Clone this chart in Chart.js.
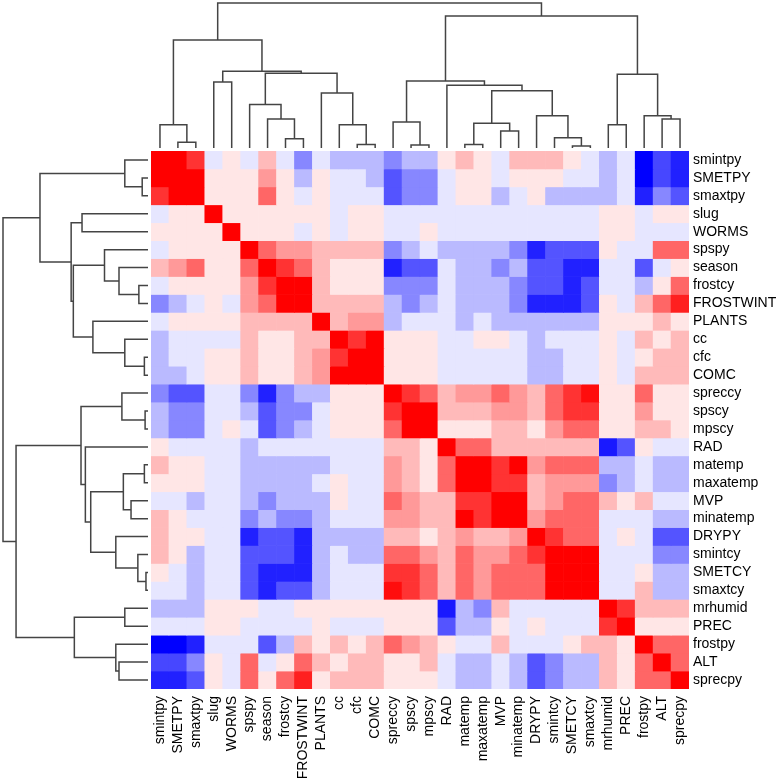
<!DOCTYPE html>
<html>
<head>
<meta charset="utf-8">
<script src="https://cdn.jsdelivr.net/npm/chart.js@4.4.0/dist/chart.umd.min.js"></script>
<style>
  html, body { margin: 0; padding: 0; background: #fff; }
  #wrap { position: relative; width: 779px; height: 784px; overflow: hidden; background: #fff; }
  canvas { position: absolute; }
  #dendTop { left: 151px; top: 0; }
  #dendLeft { left: 0; top: 151px; }
  #heat { left: 151px; top: 151px; }
</style>
</head>
<body>
<div id="wrap">
  <canvas id="dendTop" width="538" height="151"></canvas>
  <canvas id="dendLeft" width="151" height="538"></canvas>
  <canvas id="heat" width="628" height="633"></canvas>
</div>
<script>
// variable order (same for rows and columns, after clustering)
const varNames = ['smintpy', 'SMETPY', 'smaxtpy', 'slug', 'WORMS', 'spspy', 'season', 'frostcy',
  'FROSTWINT', 'PLANTS', 'cc', 'cfc', 'COMC', 'spreccy', 'spscy', 'mpscy', 'RAD', 'matemp',
  'maxatemp', 'MVP', 'minatemp', 'DRYPY', 'smintcy', 'SMETCY', 'smaxtcy', 'mrhumid', 'PREC',
  'frostpy', 'ALT', 'sprecpy'];

// correlations, upper triangle (row i starts at column i)
const corrUpper = [
  [1, 1, .8, -.1, .1, -.1, .27, -.1, -.47, -.1, -.27, -.27, -.27, -.47, -.27, -.27, .1, .27, .1, -.1, .27, .27, .27, .1, -.1, -.27, -.1, -1, -.72, -.87],
  [1, 1, .1, .1, .1, .4, .1, -.27, .1, -.1, -.1, -.27, -.67, -.47, -.47, -.1, .1, .1, -.1, .1, .1, .1, -.1, -.1, -.27, -.1, -1, -.72, -.87],
  [1, .1, .1, .1, .6, .1, -.1, .1, -.1, -.1, -.1, -.67, -.47, -.47, -.1, .1, .1, -.27, -.1, .1, -.27, -.27, -.27, -.27, -.1, -.87, -.47, -.67],
  [1, .1, .1, .1, .1, .1, .1, -.1, .1, .1, -.1, -.1, -.1, -.1, -.1, -.1, -.1, -.1, -.1, -.1, -.1, -.1, .1, .1, -.1, .1, .1],
  [1, .1, .1, .1, -.1, .1, -.1, .1, .1, -.1, -.1, .1, -.1, -.1, -.1, -.1, -.1, -.1, -.1, -.1, -.1, .1, .1, -.1, -.1, -.1],
  [1, .6, .4, .4, .27, .27, .27, .27, -.47, -.27, -.1, -.27, -.27, -.27, -.27, -.47, -.87, -.67, -.67, -.67, .1, -.1, -.1, .6, .6],
  [1, .8, .6, .27, .1, .1, .1, -.87, -.67, -.67, -.1, -.27, -.27, -.47, -.27, -.67, -.67, -.87, -.87, -.1, -.1, -.67, -.1, .1],
  [1, 1, .27, .1, .1, .1, -.47, -.47, -.47, -.1, -.27, -.27, -.27, -.47, -.67, -.67, -.87, -.67, -.1, -.1, -.27, .1, .6],
  [1, .27, .27, .27, .27, -.27, -.47, -.27, -.1, -.27, -.27, -.27, -.47, -.87, -.87, -.87, -.67, .1, -.1, .27, .6, .88],
  [1, .27, .4, .4, -.27, -.1, -.1, -.1, -.27, -.1, -.27, -.27, -.27, -.27, -.27, -.27, .1, .1, .1, .27, .1],
  [1, .8, 1, .1, .1, .1, -.1, -.1, .1, .1, -.1, -.27, -.1, -.1, -.1, .1, -.1, .27, .1, .27],
  [1, 1, .1, .1, .1, -.1, -.1, -.1, -.1, -.1, -.27, -.27, -.1, -.1, .1, -.1, .1, .27, .27],
  [1, .1, .1, .1, -.1, -.1, -.1, -.1, -.1, -.27, -.27, -.1, -.1, .1, -.1, .27, .27, .27],
  [1, .8, .6, .27, .4, .4, .6, .4, .27, .6, .8, .95, .1, .1, .6, .1, .1],
  [1, 1, .27, .27, .27, .4, .4, .27, .6, .8, .8, .1, .1, .4, .1, .1],
  [1, .1, .1, .1, .27, .27, .1, .4, .6, .6, .1, .1, .27, .27, .1],
  [1, .6, .6, .27, .27, .27, .27, .27, .27, -.9, -.67, .1, -.1, -.1],
  [1, 1, .8, 1, .4, .6, .6, .6, -.27, -.27, -.1, -.27, -.27],
  [1, .8, .8, .27, .4, .4, .4, -.47, -.27, -.1, -.27, -.27],
  [1, 1, .27, .4, .6, .6, .27, .1, .27, -.1, -.1],
  [1, .4, .6, .6, .6, -.1, -.1, -.1, -.27, -.27],
  [1, .8, .6, .6, -.1, .1, -.1, -.67, -.67],
  [1, 1, 1, -.1, -.1, -.1, -.47, -.47],
  [1, 1, -.1, -.1, .1, -.27, -.27],
  [1, -.1, -.1, .27, -.27, -.27],
  [1, .8, .27, .27, .27],
  [1, .1, .1, .1],
  [1, .6, .6],
  [1, .6],
  [1]
];

// hierarchical clustering: [childA, childB, height]; numbers = leaves, 'mK' = merge K
const merges = [
  [1, 2, 0.04], [0, 'm0', 0.16], [3, 4, 0.455], [7, 8, 0.063], [6, 'm3', 0.2],
  [5, 'm4', 0.30], [11, 12, 0.025], [10, 'm6', 0.16], [9, 'm7', 0.38], ['m5', 'm8', 0.515],
  ['m2', 'm9', 0.53], ['m1', 'm10', 0.745], [14, 15, 0.02], [13, 'm12', 0.18], [17, 18, 0.025],
  [19, 20, 0.117], ['m14', 'm15', 0.17], [23, 24, 0.014], [22, 'm17', 0.07], [21, 'm18', 0.222],
  ['m16', 'm19', 0.395], [16, 'm20', 0.432], ['m13', 'm21', 0.462], [25, 26, 0.16], [28, 29, 0.2],
  [27, 'm24', 0.222], ['m23', 'm25', 0.508], ['m22', 'm26', 0.91], ['m11', 'm27', 1.0]
];

const FONT = "'Liberation Sans', Arial, sans-serif";
const LINE = '#444';
const n = varNames.length;

// full symmetric matrix
const corr = [];
for (let i = 0; i < n; i++) corr.push(new Array(n).fill(0));
corrUpper.forEach((row, i) => row.forEach((v, k) => {
  corr[i][i + k] = v;
  corr[i + k][i] = v;
}));

function corrColor(v) {
  const c = Math.round(255 * (1 - Math.abs(v)));
  return v >= 0 ? `rgb(255,${c},${c})` : `rgb(${c},${c},255)`;
}

// dendrogram node positions / heights
function nodeInfo(id, nodes) {
  if (typeof id === 'number') return { pos: id + 0.5, h: 0 };
  return nodes[+id.slice(1)];
}
function dendroSets(vertical) {
  const nodes = [];
  const sets = [];
  merges.forEach(([a, b, h]) => {
    const na = nodeInfo(a, nodes), nb = nodeInfo(b, nodes);
    nodes.push({ pos: (na.pos + nb.pos) / 2, h: h });
    const pts = [[na.pos, na.h], [na.pos, h], [nb.pos, h], [nb.pos, nb.h]];
    sets.push({
      data: pts.map(p => vertical ? { x: p[0], y: p[1] } : { x: p[1], y: p[0] }),
      showLine: true,
      pointRadius: 0,
      borderColor: LINE,
      borderWidth: 1.5,
      clip: false
    });
  });
  return sets;
}

Chart.defaults.animation = false;
Chart.defaults.font.family = FONT;

// top dendrogram
new Chart(document.getElementById('dendTop'), {
  type: 'scatter',
  data: { datasets: dendroSets(true) },
  options: {
    responsive: false,
    devicePixelRatio: 1,
    layout: { padding: { top: 3, bottom: 3, left: 0, right: 0 } },
    plugins: { legend: { display: false }, tooltip: { enabled: false } },
    scales: {
      x: { type: 'linear', min: 0, max: n, display: false },
      y: { type: 'linear', min: 0, max: 1, display: false }
    }
  }
});

// left dendrogram
new Chart(document.getElementById('dendLeft'), {
  type: 'scatter',
  data: { datasets: dendroSets(false) },
  options: {
    responsive: false,
    devicePixelRatio: 1,
    layout: { padding: { top: 0, bottom: 0, left: 3, right: 3 } },
    plugins: { legend: { display: false }, tooltip: { enabled: false } },
    scales: {
      x: { type: 'linear', min: 0, max: 1, reverse: true, display: false },
      y: { type: 'linear', min: 0, max: n, reverse: true, display: false }
    }
  }
});

// heatmap: one stacked bar dataset per row, each cell one unit high
const heatSets = corr.map((row, i) => ({
  label: varNames[i],
  data: row.map(() => 1),
  backgroundColor: row.map(corrColor),
  borderWidth: 0,
  barPercentage: 1,
  categoryPercentage: 1
}));

new Chart(document.getElementById('heat'), {
  type: 'bar',
  data: { labels: varNames, datasets: heatSets },
  options: {
    responsive: false,
    devicePixelRatio: 1,
    layout: { padding: 0 },
    plugins: { legend: { display: false }, tooltip: { enabled: false } },
    scales: {
      x: {
        stacked: true,
        offset: true,
        grid: { display: false, drawTicks: false },
        border: { display: false },
        ticks: {
          autoSkip: false, minRotation: 90, maxRotation: 90, padding: 7,
          color: '#000', font: { size: 14, family: FONT }
        },
        afterFit(s) { s.height = 95; s.paddingLeft = 0; s.paddingRight = 0; }
      },
      y: { stacked: true, min: 0, max: n, reverse: true, display: false },
      yr: {
        type: 'category',
        position: 'right',
        labels: varNames,
        offset: true,
        grid: { display: false, drawTicks: false },
        border: { display: false },
        ticks: { autoSkip: false, padding: 4, color: '#000', font: { size: 14, family: FONT } },
        afterFit(s) { s.width = 90; s.paddingTop = 0; s.paddingBottom = 0; }
      }
    }
  }
});
</script>
</body>
</html>
